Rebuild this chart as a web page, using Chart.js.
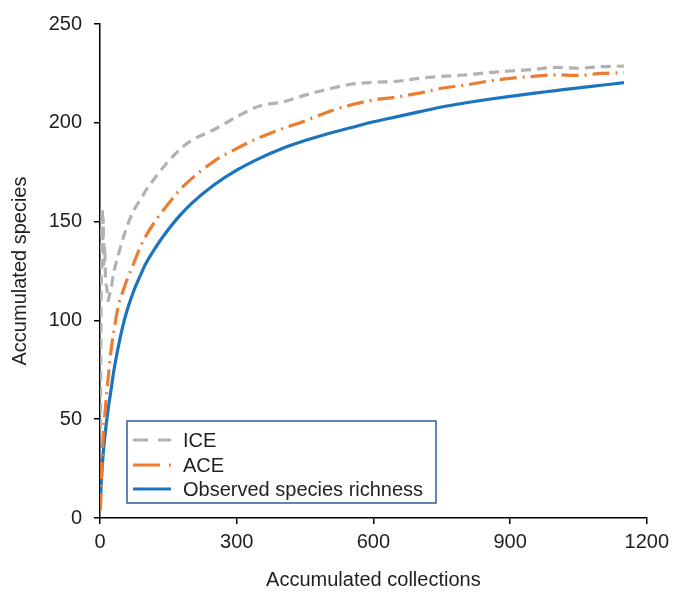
<!DOCTYPE html>
<html>
<head>
<meta charset="utf-8">
<script src="https://cdn.jsdelivr.net/npm/chart.js@4/dist/chart.umd.min.js"></script>
<style>
  html, body { margin: 0; padding: 0; background: #fff; }
  #wrap { width: 675px; height: 592px; }
</style>
</head>
<body>
<div id="wrap"><canvas id="c" width="675" height="592"></canvas></div>
<script>
const collections = [1,2,3,4,5,6,7,8,10,12,15,18,20,25,30,40,50,60,75,90,100,125,150,175,200,250,300,350,400,450,500,550,600,650,700,750,800,850,900,950,1000,1050,1100,1150];

const iceValues = [45,95,135,150,157,140,152,128,138,122,116,110,112,117,124,133,141,148,156,161.5,165.5,173.5,180.5,186.5,191,196.5,203,208.5,210.5,214,217,219.5,220.5,221,222.5,223.5,224.2,225.3,226.2,227,228,227.6,228.4,228.7];

const aceValues = [4,12,19,25,31,37,42,46,51,56,64,71,76,86,94,107,114.5,121,129.5,138,142.5,151.5,159,166,171.5,180.5,187,192.5,197,201,205.5,209,211.5,213,215,217.5,219,221,222.5,223.5,224.3,224,225,225.3];

const observedValues = [10,15,19,23,26.5,29.5,32.5,35,40,44,50,55,58.5,66,74,86.5,97,105.5,115.5,123.5,128.5,138,146,153,159,168.5,176,182,187,191,194.5,197.5,200.5,203,205.5,208,210,211.8,213.4,214.9,216.3,217.7,219,220.3];

const seriesNames = ['ICE', 'ACE', 'Observed species richness'];
const xTicks = [0, 300, 600, 900, 1200];
const yTicks = [0, 50, 100, 150, 200, 250];

const toPoints = vals => collections.map((x, i) => ({ x: x, y: vals[i] }));

const FONT = "'Liberation Sans', Arial, sans-serif";
const TXT = '#1f1f1f';

const legendPlugin = {
  id: 'boxLegend',
  afterDatasetsDraw(chart) {
    const ctx = chart.ctx;
    const bx = 127, by = 421, bw = 309, bh = 82;
    ctx.save();
    ctx.fillStyle = '#fff';
    ctx.fillRect(bx, by, bw, bh);
    ctx.strokeStyle = '#2E5A9C';
    ctx.lineWidth = 1.5;
    ctx.strokeRect(bx, by, bw, bh);
    const rows = [440, 465, 489];
    chart.data.datasets.forEach((ds, i) => {
      const y = rows[i];
      ctx.beginPath();
      ctx.strokeStyle = ds.borderColor;
      ctx.lineWidth = ds.borderWidth;
      ctx.setLineDash(ds.legendDash || []);
      ctx.moveTo(133, y);
      ctx.lineTo(171, y);
      ctx.stroke();
      ctx.setLineDash([]);
      ctx.fillStyle = TXT;
      ctx.font = '20px ' + FONT;
      ctx.textBaseline = 'middle';
      ctx.textAlign = 'left';
      ctx.fillText(ds.label, 183, y + 1);
    });
    ctx.restore();
  }
};

new Chart(document.getElementById('c'), {
  type: 'line',
  data: {
    datasets: [
      {
        label: seriesNames[0],
        data: toPoints(iceValues),
        borderColor: '#B2B2B2',
        borderWidth: 3.2,
        borderDash: [10, 6],
        legendDash: [15, 10],
        pointRadius: 0,
        fill: false,
        cubicInterpolationMode: 'monotone'
      },
      {
        label: seriesNames[1],
        data: toPoints(aceValues),
        borderColor: '#ED7D31',
        borderWidth: 3.2,
        borderDash: [17, 6, 2, 6],
        legendDash: [27, 9, 3, 10],
        pointRadius: 0,
        fill: false,
        cubicInterpolationMode: 'monotone'
      },
      {
        label: seriesNames[2],
        data: toPoints(observedValues),
        borderColor: '#1B74BE',
        borderWidth: 3.2,
        pointRadius: 0,
        fill: false,
        cubicInterpolationMode: 'monotone'
      }
    ]
  },
  options: {
    responsive: false,
    animation: false,
    devicePixelRatio: 1,
    layout: { padding: { top: 24, right: 24, left: 0, bottom: 0 } },
    plugins: {
      legend: { display: false },
      tooltip: { enabled: false }
    },
    scales: {
      x: {
        type: 'linear',
        min: 0,
        max: 1200,
        afterFit(scale) { scale.height = 74; },
        afterBuildTicks(scale) { scale.ticks = xTicks.map(v => ({ value: v })); },
        border: { display: true, color: '#000', width: 1.5 },
        grid: { display: true, drawOnChartArea: false, drawTicks: true, tickLength: 6, color: '#000', lineWidth: 1.5 },
        ticks: { color: TXT, font: { family: FONT, size: 20 }, padding: 6, maxRotation: 0, callback: v => String(v) },
        title: { display: true, text: 'Accumulated collections', color: TXT, font: { family: FONT, size: 20 }, padding: { top: 0, bottom: 0 } }
      },
      y: {
        type: 'linear',
        min: 0,
        max: 250,
        afterFit(scale) { scale.width = 100; },
        afterBuildTicks(scale) { scale.ticks = yTicks.map(v => ({ value: v })); },
        border: { display: true, color: '#000', width: 1.5 },
        grid: { display: true, drawOnChartArea: false, drawTicks: true, tickLength: 6, color: '#000', lineWidth: 1.5 },
        ticks: { color: TXT, font: { family: FONT, size: 20 }, padding: 12, callback: v => String(v) },
        title: { display: true, text: 'Accumulated species', color: TXT, font: { family: FONT, size: 20 }, padding: { top: 8, bottom: 0 } }
      }
    }
  },
  plugins: [legendPlugin]
});
</script>
</body>
</html>
